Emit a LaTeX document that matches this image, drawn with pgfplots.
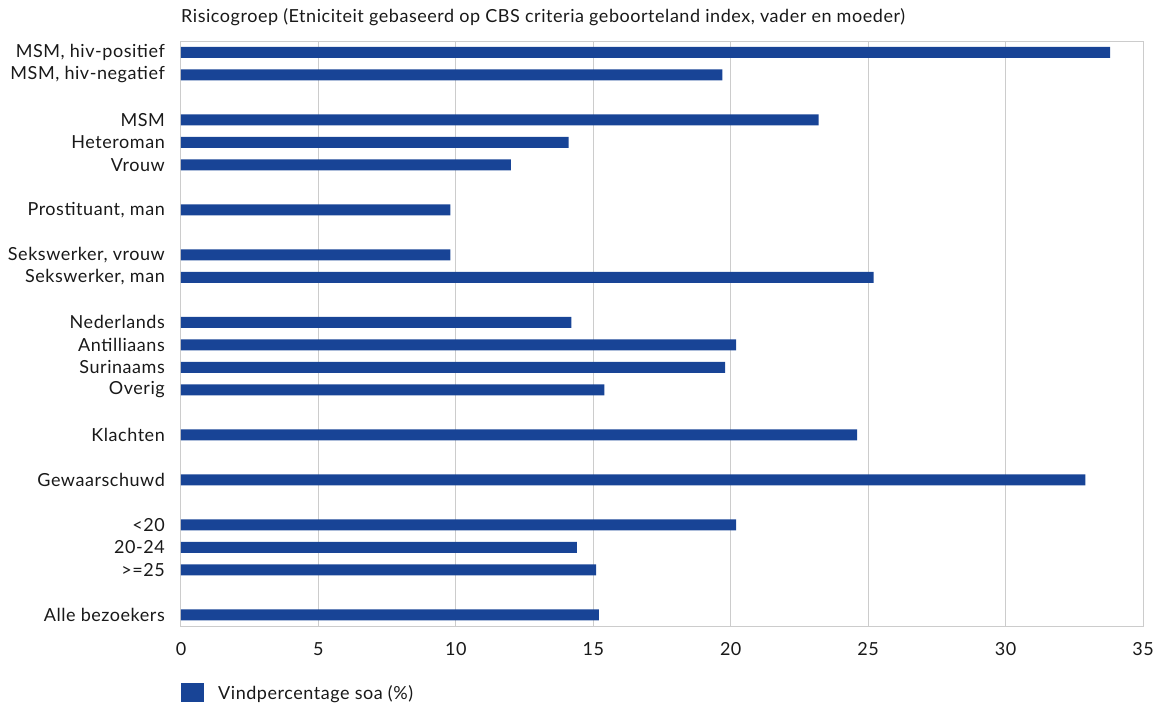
\documentclass[border=0pt]{standalone}
\usepackage{fontspec}
\setmainfont{Lato}[LetterSpace=3]
\usepackage{pgfplots}
\pgfplotsset{compat=1.18}
\definecolor{barblue}{RGB}{24,68,150}
\definecolor{gridgray}{RGB}{204,204,204}
\definecolor{txt}{RGB}{25,25,25}
\begin{document}
\begin{tikzpicture}[x=1pt,y=1pt]
\path[use as bounding box] (0,0) rectangle (1161,702);
\begin{axis}[
  at={(181pt,76pt)}, anchor=south west,
  scale only axis, width=962pt, height=585pt,
  xmin=0, xmax=35, ymin=-0.5, ymax=25.5, y dir=reverse,
  xbar, bar width=11pt, bar shift=0pt,
  xtick={0,5,...,35},
  ytick={0,1,3,4,5,7,9,10,12,13,14,15,17,19,21,22,23,25},
  yticklabels={{MSM, hiv-positief},{MSM, hiv-negatief},MSM,Heteroman,Vrouw,{Prostituant, man},{Sekswerker, vrouw},{Sekswerker, man},Nederlands,Antilliaans,Surinaams,Overig,Klachten,Gewaarschuwd,{<20},{20-24},{>=25},{Alle bezoekers}},
  major tick length=0pt,
  tick style={draw=none},
  xmajorgrids,
  grid style={gridgray, line width=1pt},
  axis line style={gridgray, line width=1pt},
  /pgf/number format/assume math mode=true,
  ticklabel style={font=\fontsize{18}{21}\selectfont, text=txt},
  yticklabel style={inner sep=0pt, xshift=-16pt},
  xticklabel style={inner sep=0pt, yshift=-16pt},
  title={Risicogroep (Etniciteit gebaseerd op CBS criteria geboorteland index, vader en moeder)},
  title style={at={(0,1)}, anchor=base west, inner sep=0pt, yshift=13pt, font=\fontsize{18}{21}\selectfont, text=txt},
  legend style={at={(0,-0.0974)}, anchor=north west, draw=none, inner sep=0pt, font=\fontsize{18}{21}\selectfont, text=txt, legend cell align=left},
]
\addplot[fill=barblue, draw=none,
  legend image code/.code={\fill[barblue] (0pt,-9.5pt) rectangle (23pt,9.5pt); \path (35pt,0pt);}]
  coordinates {
  (33.8,0) (19.7,1) (23.2,3) (14.1,4) (12.0,5) (9.8,7) (9.8,9) (25.2,10)
  (14.2,12) (20.2,13) (19.8,14) (15.4,15) (24.6,17) (32.9,19)
  (20.2,21) (14.4,22) (15.1,23) (15.2,25)
  };
\addlegendentry{Vindpercentage soa (\%)}
\end{axis}
\end{tikzpicture}
\end{document}
